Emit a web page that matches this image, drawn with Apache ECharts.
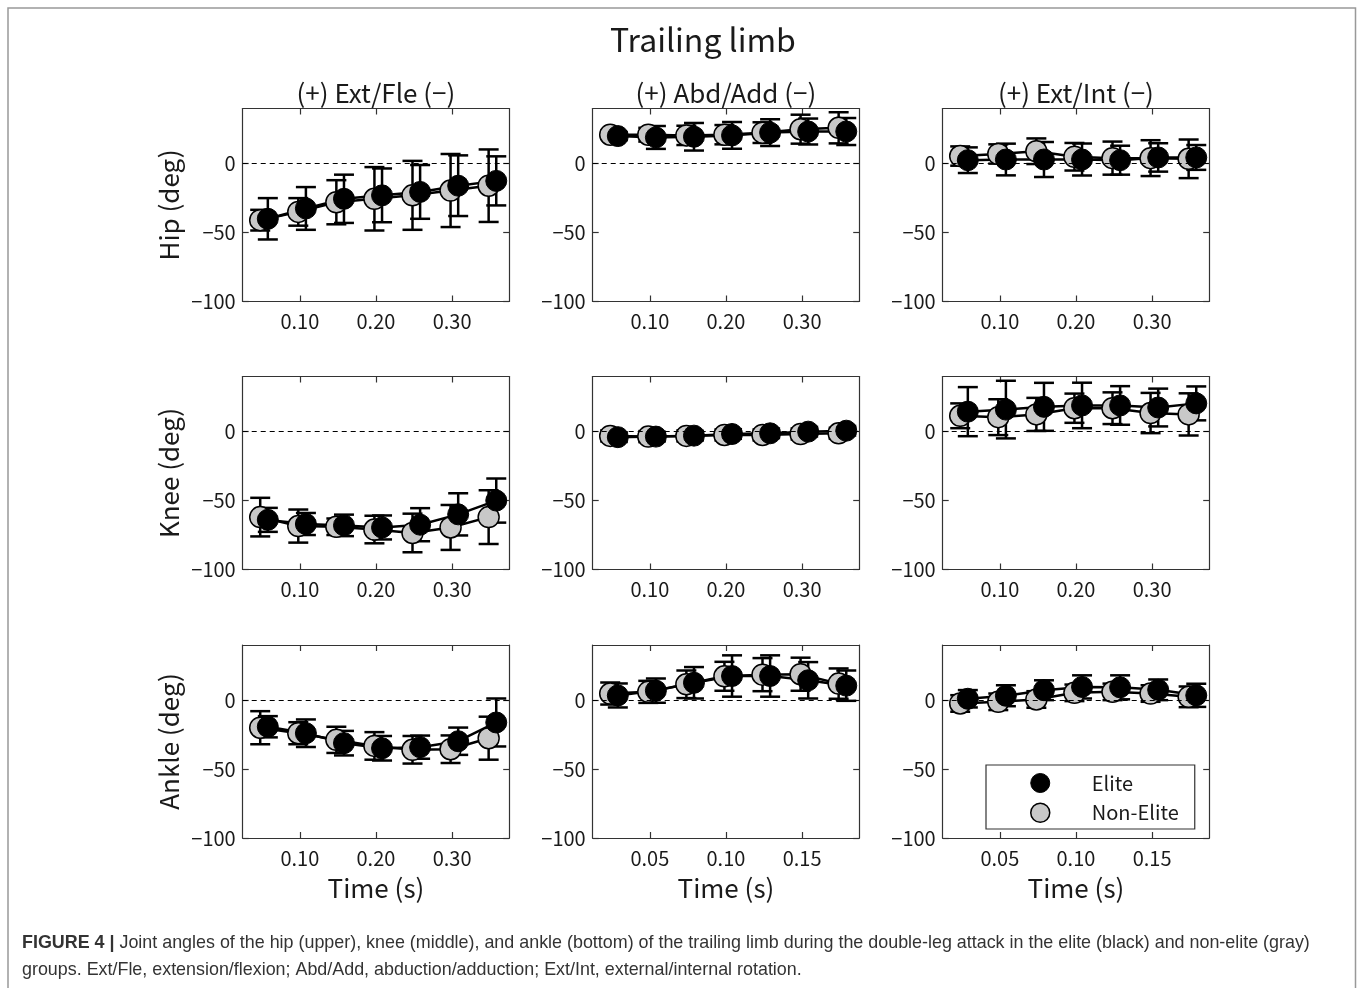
<!DOCTYPE html>
<html>
<head>
<meta charset="utf-8">
<title>Trailing limb</title>
<script src="https://cdn.jsdelivr.net/npm/echarts@6/dist/echarts.min.js"></script>
<style>
  html, body { margin: 0; padding: 0; background: #fff; }
  #chart { width: 1358px; height: 988px; }
</style>
</head>
<body>
<div id="chart"></div>
<script>
// time points (s), elite markers are drawn slightly right of non-elite ones
const xLongN = [0.048, 0.098, 0.148, 0.198, 0.248, 0.298, 0.348];
const xLongE = [0.058, 0.108, 0.158, 0.208, 0.258, 0.308, 0.358];
const xShortN = [0.024, 0.049, 0.074, 0.099, 0.124, 0.149, 0.174];
const xShortE = [0.029, 0.054, 0.079, 0.104, 0.129, 0.154, 0.179];
const ticksLong = [0.10, 0.20, 0.30];
const ticksShort = [0.05, 0.10, 0.15];
const yTicks = [-100, -50, 0];

const rowNames = ['Hip (deg)', 'Knee (deg)', 'Ankle (deg)'];
const colNames = ['(+) Ext/Fle (\u2212)', '(+) Abd/Add (\u2212)', '(+) Ext/Int (\u2212)'];

// hip
const hipFleE = [-40, -32.5, -25.5, -23, -20.5, -16, -12.5];
const hipFleEsd = [15, 15.5, 17.5, 19.5, 19.5, 22, 17.8];
const hipFleN = [-41, -35, -28, -25.5, -23, -19.5, -16];
const hipFleNsd = [7.5, 10, 16, 23, 25, 26.5, 26.3];
const hipAbdE = [20, 19, 19.5, 20.5, 22.5, 23.3, 23.3];
const hipAbdEsd = [3, 8.3, 10, 9.7, 9.7, 9.4, 9.8];
const hipAbdN = [21, 21, 20.5, 21, 22.5, 25, 26];
const hipAbdNsd = [3, 5, 7, 7, 7.5, 10.5, 11.3];
const hipRotE = [2.5, 3, 3, 3, 2.5, 4.5, 4.5];
const hipRotEsd = [9.3, 11.5, 12.7, 11.6, 10.5, 10.3, 9];
const hipRotN = [5.5, 7, 9, 5, 4, 4, 3.5];
const hipRotNsd = [7, 7, 9.3, 10, 12, 13, 14];

// knee
const kneeFleE = [-64, -67, -68, -69.5, -67.5, -60, -50];
const kneeFleEsd = [8.7, 8, 7.8, 8.7, 12, 15.3, 16];
const kneeFleN = [-62, -68.5, -69, -71, -73.5, -69.5, -62];
const kneeFleNsd = [14, 12, 6, 10, 14, 16.3, 19.5];
const kneeAbdE = [-4, -3.6, -2.9, -1.7, -1.2, 0, 0.7];
const kneeAbdEsd = [3.5, 3.5, 3.5, 3.5, 3.5, 3.5, 3.5];
const kneeAbdN = [-3.1, -3.6, -3.1, -2.4, -2.4, -1.7, -1.2];
const kneeAbdNsd = [4, 4, 4, 4, 4, 4, 4];
const kneeRotE = [14.5, 16, 18, 19, 19, 17.5, 20.5];
const kneeRotEsd = [17.8, 20.9, 17.4, 16.5, 14, 13.7, 12.3];
const kneeRotN = [11.5, 10.5, 12.5, 17, 17, 13.5, 12.5];
const kneeRotNsd = [9, 13, 12, 10.6, 11.5, 14.6, 15.3];

// ankle
const ankleFleE = [-19.3, -24, -31.2, -34.9, -34.1, -29.8, -16.2];
const ankleFleEsd = [7.7, 10, 8.9, 8.9, 8.4, 9.9, 17.4];
const ankleFleN = [-20, -24, -28.8, -33.2, -36, -35.6, -27.6];
const ankleFleNsd = [12, 8, 9.5, 10, 10, 10, 15.6];
const ankleAbdE = [3.4, 6.9, 12.6, 17.5, 17.5, 14.4, 10.5];
const ankleAbdEsd = [8.7, 8.8, 11.4, 15, 15, 13.2, 11];
const ankleAbdN = [4.8, 6, 11.5, 17.3, 18.5, 18.8, 12];
const ankleAbdNsd = [8, 8, 10, 10.5, 12, 12, 11];
const ankleRotE = [1, 3.2, 7.2, 9.6, 9.3, 7.5, 3.5];
const ankleRotEsd = [6.3, 7.6, 7.2, 8.4, 8.7, 7.5, 8.4];
const ankleRotN = [-2.4, -1.2, 0.5, 5.3, 6, 4.8, 2.4];
const ankleRotNsd = [6, 6, 6, 6, 6, 6, 7.5];

const panels = [
  [hipFleE, hipFleEsd, hipFleN, hipFleNsd, 'long'],
  [hipAbdE, hipAbdEsd, hipAbdN, hipAbdNsd, 'long'],
  [hipRotE, hipRotEsd, hipRotN, hipRotNsd, 'long'],
  [kneeFleE, kneeFleEsd, kneeFleN, kneeFleNsd, 'long'],
  [kneeAbdE, kneeAbdEsd, kneeAbdN, kneeAbdNsd, 'long'],
  [kneeRotE, kneeRotEsd, kneeRotN, kneeRotNsd, 'long'],
  [ankleFleE, ankleFleEsd, ankleFleN, ankleFleNsd, 'long'],
  [ankleAbdE, ankleAbdEsd, ankleAbdN, ankleAbdNsd, 'short'],
  [ankleRotE, ankleRotEsd, ankleRotN, ankleRotNsd, 'short'],
];

const FONT = "'Noto Sans CJK JP', 'Noto Sans', sans-serif";
const CAPFONT = "'Liberation Sans', Arial, sans-serif";
const INK = '#1a1a1a';
const AXIS = '#333';

const colLeft = [242.7, 592.7, 942.7];
const rowTop = [108.5, 376.5, 645];
const plotW = 266.5, plotH = 193;

const fmtNum = v => (v < 0 ? '\u2212' + Math.abs(v) : String(v));

function errorBars(params, api) {
  const x = api.value(0);
  const top = api.coord([x, api.value(2)]);
  const bot = api.coord([x, api.value(1)]);
  const hw = 10;
  const st = () => ({ stroke: '#000', lineWidth: 2.5 });
  return {
    type: 'group',
    children: [
      { type: 'line', shape: { x1: top[0], y1: top[1], x2: bot[0], y2: bot[1] }, style: st() },
      { type: 'line', shape: { x1: top[0] - hw, y1: top[1], x2: top[0] + hw, y2: top[1] }, style: st() },
      { type: 'line', shape: { x1: bot[0] - hw, y1: bot[1], x2: bot[0] + hw, y2: bot[1] }, style: st() },
    ],
  };
}

const grid = [], xAxis = [], yAxis = [], series = [];

panels.forEach((p, i) => {
  const [eM, eS, nM, nS, kind] = p;
  const row = Math.floor(i / 3), col = i % 3;
  const short = kind === 'short';
  const xmin = short ? 0.0125 : 0.025, xmax = short ? 0.1875 : 0.375;
  const ticks = short ? ticksShort : ticksLong;
  const xsN = short ? xShortN : xLongN;
  const xsE = short ? xShortE : xLongE;

  grid.push({ left: colLeft[col], top: rowTop[row], width: plotW, height: plotH });

  const tick = { show: true, inside: true, length: 6, customValues: ticks, lineStyle: { color: AXIS, width: 1.2 } };
  const line = { show: true, onZero: false, lineStyle: { color: AXIS, width: 1.2 } };
  xAxis.push({
    gridIndex: i, type: 'value', min: xmin, max: xmax, position: 'bottom',
    axisLine: line, axisTick: tick, splitLine: { show: false },
    axisLabel: { customValues: ticks, formatter: v => v.toFixed(2), fontSize: 20, color: INK, fontFamily: FONT, margin: 10 },
    name: row === 2 ? 'Time (s)' : '', nameLocation: 'middle', nameGap: 37,
    nameTextStyle: { fontSize: 26, color: INK, fontFamily: FONT },
  });
  xAxis.push({
    gridIndex: i, type: 'value', min: xmin, max: xmax, position: 'top',
    axisLine: line, axisTick: tick, splitLine: { show: false }, axisLabel: { show: false },
  });

  const ytick = { show: true, inside: true, length: 6, customValues: yTicks, lineStyle: { color: AXIS, width: 1.2 } };
  yAxis.push({
    gridIndex: i, type: 'value', min: -100, max: 40, position: 'left',
    axisLine: line, axisTick: ytick, splitLine: { show: false },
    axisLabel: { customValues: yTicks, formatter: fmtNum, fontSize: 20, color: INK, fontFamily: FONT, margin: 7 },
    name: col === 0 ? rowNames[row] : '', nameLocation: 'middle', nameGap: 61,
    nameTextStyle: { fontSize: 26, color: INK, fontFamily: FONT },
  });
  yAxis.push({
    gridIndex: i, type: 'value', min: -100, max: 40, position: 'right',
    axisLine: line, axisTick: ytick, splitLine: { show: false }, axisLabel: { show: false },
  });

  const xa = 2 * i, ya = 2 * i;
  series.push({
    type: 'custom', xAxisIndex: xa, yAxisIndex: ya, renderItem: errorBars,
    encode: { x: 0, y: [1, 2] },
    data: xsN.map((x, j) => [x, nM[j] - nS[j], nM[j] + nS[j]]),
    markLine: {
      silent: true, symbol: 'none', label: { show: false },
      lineStyle: { type: [5, 4], color: '#000', width: 1.2 },
      data: [{ yAxis: 0 }],
    },
  });
  series.push({
    type: 'line', name: 'Non-Elite', xAxisIndex: xa, yAxisIndex: ya,
    data: xsN.map((x, j) => [x, nM[j]]),
    symbol: 'circle', symbolSize: 21, showSymbol: true,
    lineStyle: { color: '#000', width: 2.5 },
    itemStyle: { color: '#c8c8c8', borderColor: '#000', borderWidth: 1.5 },
  });
  series.push({
    type: 'custom', xAxisIndex: xa, yAxisIndex: ya, renderItem: errorBars,
    encode: { x: 0, y: [1, 2] },
    data: xsE.map((x, j) => [x, eM[j] - eS[j], eM[j] + eS[j]]),
  });
  series.push({
    type: 'line', name: 'Elite', xAxisIndex: xa, yAxisIndex: ya,
    data: xsE.map((x, j) => [x, eM[j]]),
    symbol: 'circle', symbolSize: 21, showSymbol: true,
    lineStyle: { color: '#000', width: 2.5 },
    itemStyle: { color: '#000', borderColor: '#000', borderWidth: 1 },
  });
});

const graphic = [
  { type: 'rect', shape: { x: 8, y: 8, width: 1347.5, height: 1000 }, style: { fill: 'none', stroke: '#999', lineWidth: 1.5 }, silent: true },
  { type: 'text', x: 703, y: 40, style: { text: 'Trailing limb', fontSize: 32, fontFamily: FONT, fill: INK, align: 'center', verticalAlign: 'middle' } },
  {
    type: 'text', x: 22, y: 930,
    style: {
      text: '{b|FIGURE 4 |} Joint angles of the hip (upper), knee (middle), and ankle (bottom) of the trailing limb during the double-leg attack in the elite (black) and non-elite (gray)\ngroups. Ext/Fle, extension/flexion; Abd/Add, abduction/adduction; Ext/Int, external/internal rotation.',
      fontSize: 17.9, fontFamily: CAPFONT, fill: '#333', lineHeight: 27,
      rich: { b: { fontWeight: 'bold', fontSize: 17.9, fontFamily: CAPFONT, fill: '#333' } },
    },
  },
];
colNames.forEach((t, c) => {
  graphic.push({ type: 'text', x: colLeft[c] + plotW / 2, y: 93, style: { text: t, fontSize: 26, fontFamily: FONT, fill: INK, align: 'center', verticalAlign: 'middle' } });
});

const chart = echarts.init(document.getElementById('chart'), null, { renderer: 'canvas' });
chart.setOption({
  animation: false,
  backgroundColor: '#fff',
  grid, xAxis, yAxis, series, graphic,
  legend: {
    data: [
      { name: 'Elite', icon: 'circle', itemStyle: { color: '#000', borderColor: '#000', borderWidth: 1 } },
      { name: 'Non-Elite', icon: 'circle', itemStyle: { color: '#c8c8c8', borderColor: '#000', borderWidth: 1.5 } },
    ],
    orient: 'vertical', left: 986, top: 765,
    itemWidth: 19, itemHeight: 19, itemGap: 9.5,
    padding: [8, 16, 6, 44],
    backgroundColor: '#fff', borderColor: AXIS, borderWidth: 1.2,
    textStyle: { fontSize: 20, color: INK, fontFamily: FONT, padding: [0, 0, 0, 37] },
    selectedMode: false,
  },
});
</script>
</body>
</html>
